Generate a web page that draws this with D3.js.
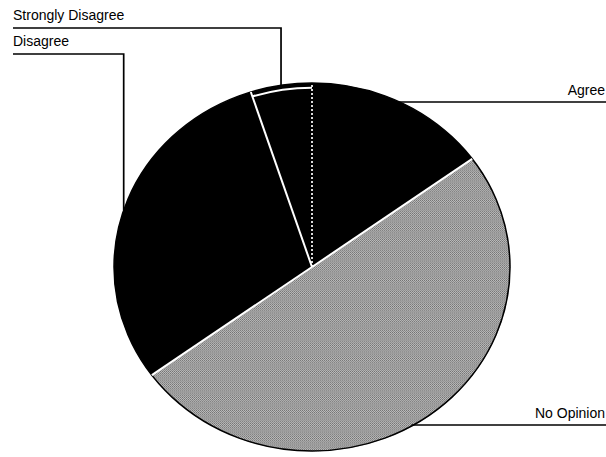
<!doctype html>
<html lang="en">
<head>
<meta charset="utf-8">
<script src="https://cdn.jsdelivr.net/npm/d3@7"></script>
<style>
  body { margin: 0; background: #fff; }
  text { font-family: "Liberation Sans", Arial, sans-serif; font-size: 14px; fill: #000; }
</style>
</head>
<body>
<div id="chart"></div>
<script>
  // answers in percent, clockwise from 12 o'clock
  var categories = ["Agree", "No Opinion", "Disagree", "Strongly Disagree"];
  var values = [15, 50, 30, 5];

  var width = 606, height = 457;
  var cx = 312, cy = 267, rx = 198, ry = 184;

  var svg = d3.select("#chart").append("svg")
      .attr("width", width)
      .attr("height", height);

  // halftone-ish grey for the "No Opinion" slice
  var defs = svg.append("defs");
  var pat = defs.append("pattern")
      .attr("id", "halftone")
      .attr("width", 2).attr("height", 2)
      .attr("patternUnits", "userSpaceOnUse");
  pat.append("rect").attr("width", 2).attr("height", 2).attr("fill", "#bcbcbc");
  pat.append("rect").attr("width", 1).attr("height", 1).attr("fill", "#707070");
  pat.append("rect").attr("x", 1).attr("y", 1).attr("width", 1).attr("height", 1).attr("fill", "#868686");

  var fills = {"Agree": "#000", "No Opinion": "url(#halftone)", "Disagree": "#000", "Strongly Disagree": "#000"};

  var data = categories.map(function(c, i) { return {name: c, value: values[i]}; });

  var pie = d3.pie()
      .sort(null)
      .value(function(d) { return d.value; });
  var arcs = pie(data);

  var arc = d3.arc().innerRadius(0).outerRadius(rx);

  // pie is a bit squashed vertically in the original
  var g = svg.append("g")
      .attr("transform", "translate(" + cx + "," + cy + ") scale(1," + (ry / rx) + ")");

  g.selectAll("path.slice")
    .data(arcs)
    .join("path")
      .attr("class", "slice")
      .attr("d", arc)
      .attr("fill", function(d) { return fills[d.data.name]; });

  // point on the ellipse for an angle (0 = top, clockwise)
  function pt(a) {
    return [cx + Math.sin(a) * rx, cy - Math.cos(a) * ry];
  }

  // slice borders
  arcs.forEach(function(d, i) {
    var p = pt(d.startAngle);
    var prev = arcs[(i + arcs.length - 1) % arcs.length].data.name;
    var dotted = (d.data.name === "Agree" && prev === "Strongly Disagree");
    svg.append("line")
      .attr("x1", cx).attr("y1", cy)
      .attr("x2", p[0]).attr("y2", p[1])
      .attr("stroke", dotted ? "#d8d8d8" : "#fff")
      .attr("stroke-width", 2)
      .attr("stroke-dasharray", dotted ? "2,2" : null);
  });

  // white inner rim on the small slice
  var sd = arcs[3];
  g.append("path")
    .attr("d", d3.arc().innerRadius(rx - 5).outerRadius(rx - 5)(sd))
    .attr("fill", "none")
    .attr("stroke", "#fff")
    .attr("stroke-width", 2)
    .attr("vector-effect", "non-scaling-stroke");

  // outer outline
  g.append("circle")
    .attr("r", rx)
    .attr("fill", "none")
    .attr("stroke", "#000")
    .attr("stroke-width", 1.5)
    .attr("vector-effect", "non-scaling-stroke");

  // labels with leader lines
  var labelLeft = {"Strongly Disagree": 28, "Disagree": 54};
  var labelRight = {"Agree": 102, "No Opinion": 425};
  var leader = svg.append("g")
      .attr("fill", "none")
      .attr("stroke", "#000")
      .attr("stroke-width", 1.7);

  arcs.forEach(function(d) {
    var mid = (d.startAngle + d.endAngle) / 2;
    var p = pt(mid);
    var name = d.data.name;
    if (labelLeft[name] !== undefined) {
      var ly = labelLeft[name];
      leader.append("polyline")
        .attr("points", [[13, ly], [p[0], ly], [p[0], p[1]]].join(" "));
      svg.append("text")
        .attr("x", 13).attr("y", ly - 8)
        .text(name);
    } else {
      // horizontal leader starts where its row meets the pie edge
      var ry0 = labelRight[name];
      var t = (ry0 - cy) / ry;
      var x0 = cx + rx * Math.sqrt(Math.max(0, 1 - t * t));
      leader.append("line")
        .attr("x1", x0 - 2).attr("y1", ry0)
        .attr("x2", width).attr("y2", ry0);
      svg.append("text")
        .attr("x", width - 1).attr("y", ry0 - 7)
        .attr("text-anchor", "end")
        .text(name);
    }
  });
</script>
</body>
</html>
